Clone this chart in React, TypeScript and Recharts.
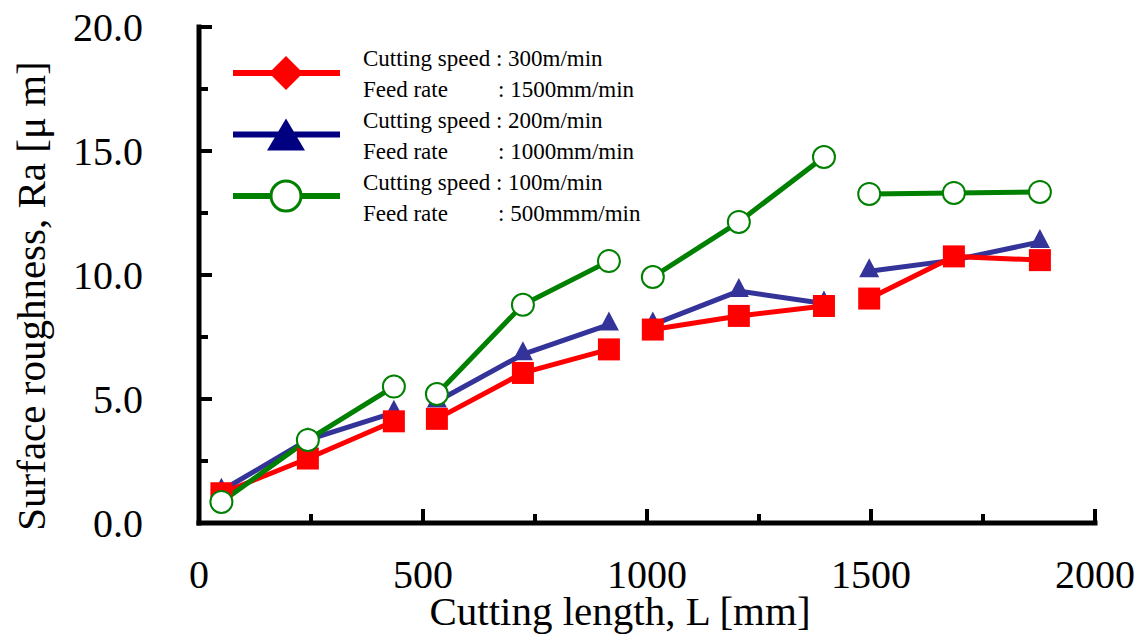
import React from 'react';
import { LineChart, Line, XAxis, YAxis } from 'recharts';

// Cutting length [mm] of each measurement (three per tool pass)
const lengths = [50, 243, 435, 531, 723, 915, 1013, 1205, 1395, 1496, 1685, 1877];
// Surface roughness Ra [um]
const speed300 = [1.2, 2.6, 4.1, 4.2, 6.05, 7.0, 7.8, 8.35, 8.75, 9.05, 10.75, 10.6];
const speed200 = [1.3, 3.35, 4.45, 4.9, 6.8, 8.0, 8.0, 9.35, 8.85, 10.15, 10.6, 11.33];
const speed100 = [0.85, 3.35, 5.5, 5.2, 8.8, 10.56, 9.92, 12.14, 14.76, 13.27, 13.31, 13.35];

const xTicks = [0, 250, 500, 750, 1000, 1250, 1500, 1750, 2000];
const yTicks = [0, 2.5, 5, 7.5, 10, 12.5, 15, 17.5, 20];

const legendItems = [
  { speed: 'Cutting speed : 300m/min', feed: ': 1500mm/min', color: '#ff0000', marker: 'diamond' },
  { speed: 'Cutting speed : 200m/min', feed: ': 1000mm/min', color: '#000080', marker: 'triangle' },
  { speed: 'Cutting speed : 100m/min', feed: ': 500mmm/min', color: '#008000', marker: 'circle' },
];

const FONT = "'Liberation Serif', 'Times New Roman', serif";

// build table, a null row between passes breaks the lines
const data: any[] = [];
lengths.forEach((len, i) => {
  if (i > 0 && i % 3 === 0) {
    data.push({ length: (lengths[i - 1] + len) / 2, s300: null, s200: null, s100: null });
  }
  data.push({ length: len, s300: speed300[i], s200: speed200[i], s100: speed100[i] });
});

const isMajorX = (v: number) => v % 500 === 0;
const isMajorY = (v: number) => v % 5 === 0;

const BottomTick = ({ x, y, payload }: any) => {
  const major = isMajorX(payload.value);
  return (
    <g>
      <line x1={x} x2={x} y1={y} y2={y - (major ? 14 : 9)} stroke="#000" strokeWidth={4} />
      {major && (
        <text x={x} y={y + 65} textAnchor="middle" fontSize={40} fontFamily={FONT} fill="#000">
          {payload.value}
        </text>
      )}
    </g>
  );
};

const TopTick = ({ x, y, payload }: any) => (
  <line x1={x} x2={x} y1={y} y2={y + (isMajorX(payload.value) ? 14 : 9)} stroke="#000" strokeWidth={4} />
);

const LeftTick = ({ x, y, payload }: any) => {
  const major = isMajorY(payload.value);
  return (
    <g>
      <line x1={x} x2={x + (major ? 13 : 9)} y1={y} y2={y} stroke="#000" strokeWidth={4} />
      {major && (
        <text x={x - 56} y={y + 14} textAnchor="end" fontSize={40} fontFamily={FONT} fill="#000">
          {payload.value.toFixed(1)}
        </text>
      )}
    </g>
  );
};

const RightTick = ({ x, y, payload }: any) => (
  <line x1={x} x2={x - (isMajorY(payload.value) ? 13 : 9)} y1={y} y2={y} stroke="#000" strokeWidth={4} />
);

const SquareDot = (props: any) => {
  const { cx, cy, index } = props;
  if (cx == null || cy == null || props.value == null) return <g key={index} />;
  return <rect key={index} x={cx - 11} y={cy - 11} width={22} height={22} fill="#ff0000" />;
};

const TriangleDot = (props: any) => {
  const { cx, cy, index } = props;
  if (cx == null || cy == null || props.value == null) return <g key={index} />;
  return (
    <polygon
      key={index}
      points={`${cx},${cy - 13} ${cx - 10},${cy + 6} ${cx + 10},${cy + 6}`}
      fill="#333399"
    />
  );
};

const CircleDot = (props: any) => {
  const { cx, cy, index } = props;
  if (cx == null || cy == null || props.value == null) return <g key={index} />;
  return <circle key={index} cx={cx} cy={cy} r={11} fill="#fff" stroke="#008000" strokeWidth={2} />;
};

const LegendMarker = ({ type, color, cx, cy }: any) => {
  if (type === 'diamond') {
    return <polygon points={`${cx},${cy - 17} ${cx + 17},${cy} ${cx},${cy + 17} ${cx - 17},${cy}`} fill={color} />;
  }
  if (type === 'triangle') {
    return <polygon points={`${cx},${cy - 16} ${cx - 19},${cy + 16} ${cx + 19},${cy + 16}`} fill={color} />;
  }
  return <circle cx={cx} cy={cy} r={15} fill="#fff" stroke={color} strokeWidth={3} />;
};

const ChartLegend = () => (
  <g>
    {legendItems.map((item, i) => {
      const ly = 65 + i * 61.5;
      const ty = 58 + i * 62;
      return (
        <g key={item.speed}>
          <line x1={225} x2={332} y1={ly} y2={ly} stroke={item.color} strokeWidth={6} />
          <LegendMarker type={item.marker} color={item.color} cx={278} cy={ly} />
          <text x={355} y={ty} fontSize={23} fontFamily={FONT} fill="#000">{item.speed}</text>
          <text x={355} y={ty + 31} fontSize={23} fontFamily={FONT} fill="#000">
            Feed rate<tspan x={490}>{item.feed}</tspan>
          </text>
        </g>
      );
    })}
  </g>
);

const XTitle = ({ viewBox }: any) => (
  <text x={viewBox.x + viewBox.width / 2 - 27} y={viewBox.y + 102} textAnchor="middle" fontSize={41} fontFamily={FONT} fill="#000">
    Cutting length, L [mm]
  </text>
);

const YTitle = ({ viewBox }: any) => {
  const x = 37;
  const y = viewBox.y + viewBox.height / 2 + 21;
  return (
    <text x={x} y={y} transform={`rotate(-90, ${x}, ${y})`} textAnchor="middle" fontSize={41} fontFamily={FONT} fill="#000">
      Surface roughness, Ra [μ m]
    </text>
  );
};

const axisLine = { stroke: '#000', strokeWidth: 5, strokeLinecap: 'square' as const };

export default function App() {
  return (
    <LineChart width={1139} height={634} data={data} margin={{ top: 19, right: 52, bottom: 0, left: 0 }}>
      <XAxis
        dataKey="length"
        type="number"
        domain={[0, 2000]}
        ticks={xTicks}
        interval={0}
        height={119}
        axisLine={axisLine}
        tickLine={false}
        tickSize={0}
        tickMargin={0}
        tick={<BottomTick />}
        label={{ content: <XTitle /> }}
      />
      <XAxis
        xAxisId="top"
        orientation="top"
        dataKey="length"
        type="number"
        domain={[0, 2000]}
        ticks={xTicks}
        interval={0}
        height={0}
        axisLine={axisLine}
        tickLine={false}
        tickSize={0}
        tickMargin={0}
        tick={<TopTick />}
      />
      <YAxis
        type="number"
        domain={[0, 20]}
        ticks={yTicks}
        interval={0}
        width={191}
        axisLine={axisLine}
        tickLine={false}
        tickSize={0}
        tickMargin={0}
        tick={<LeftTick />}
        label={{ content: <YTitle /> }}
      />
      <YAxis
        yAxisId="right"
        orientation="right"
        type="number"
        domain={[0, 20]}
        ticks={yTicks}
        interval={0}
        width={0}
        axisLine={axisLine}
        tickLine={false}
        tickSize={0}
        tickMargin={0}
        tick={<RightTick />}
      />
      <Line dataKey="s200" stroke="#333399" strokeWidth={5} dot={TriangleDot} isAnimationActive={false} />
      <Line dataKey="s300" stroke="#ff0000" strokeWidth={5} dot={SquareDot} isAnimationActive={false} />
      <Line dataKey="s100" stroke="#008000" strokeWidth={5} dot={CircleDot} isAnimationActive={false} />
      <ChartLegend />
    </LineChart>
  );
}
